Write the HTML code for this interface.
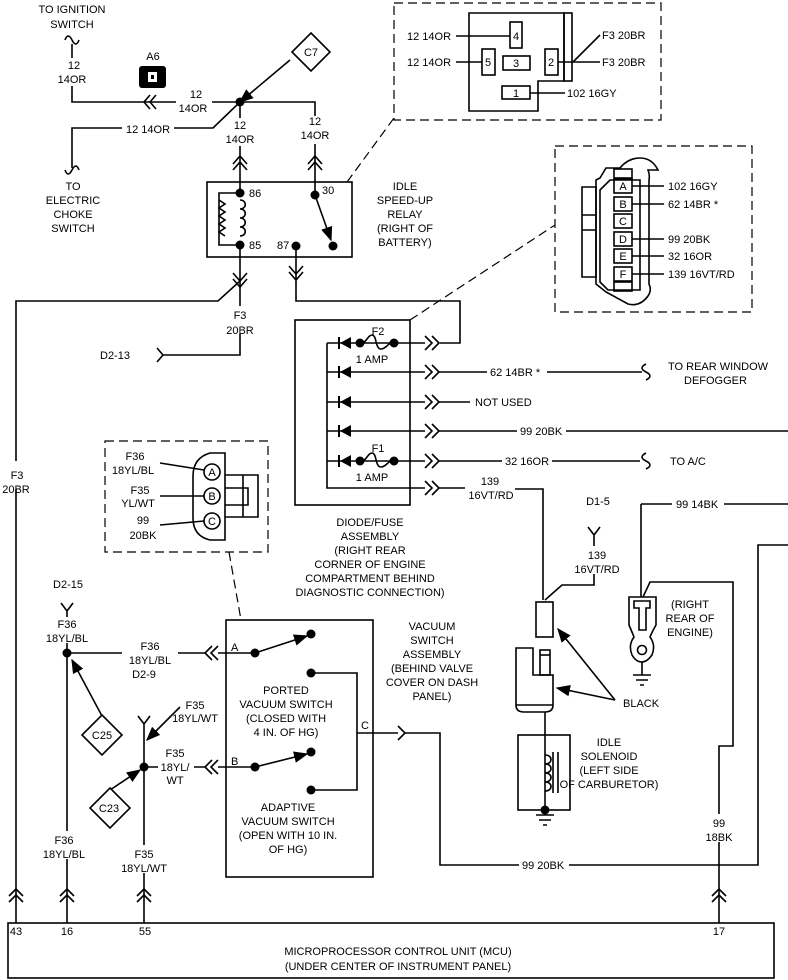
<!DOCTYPE html>
<html><head><meta charset="utf-8"><style>
html,body{margin:0;padding:0;background:#fff;}
svg{display:block;}
text{font-family:"Liberation Sans",sans-serif;font-size:11px;fill:#000;}
</style></head><body>
<svg width="788" height="980" viewBox="0 0 788 980" xmlns="http://www.w3.org/2000/svg">
<defs>
<marker id="ah" viewBox="0 0 10 10" refX="9" refY="5" markerWidth="9" markerHeight="9" orient="auto"><path d="M0,1 L10,5 L0,9 Z" fill="#000"/></marker>
</defs>
<g fill="none" stroke="#000" stroke-width="1.6">
<path d="M65,40 q3,-8 7,0 q4,8 7,0"/>
<path d="M72,44 V102 H240"/>
<path d="M240,102 L213,128 H72 V168"/>
<path d="M65,170 q3,8 7,0 q4,-8 7,0"/>
<path d="M240,102 V193"/>
<path d="M240,102 H315 V195"/>
<path d="M150,95 L144,102 L150,109 M156,95 L150,102 L156,109"/>
<path d="M233,164 L240,156 L247,164 M233,170 L240,162 L247,170"/>
<path d="M308,164 L315,156 L322,164 M308,170 L315,162 L322,170"/>
<path d="M290,60 L240,102" marker-end="url(#ah)"/>
<path d="M311,33 L330,52 L311,71 L292,52 Z" fill="#fff"/>
<rect x="207" y="182" width="145" height="75"/>
<path d="M240,193 H219 V245 H240"/>
<path d="M219,200 l6,4 -6,4 6,4 -6,4 6,4 -6,4 6,4 -6,4 6,4"/>
<path d="M240,200 c7,0 7,9 0,9 c7,0 7,9 0,9 c7,0 7,9 0,9 c7,0 7,9 0,9"/>
<path d="M315,195 L331,240" marker-end="url(#ah)"/>
<path d="M240,245 V355 H163"/>
<path d="M157,348 L163,355 L157,362"/>
<path d="M233,273 L240,281 L247,273 M233,279 L240,287 L247,279"/>
<path d="M296,246 V301 H460 V343 H440"/>
<path d="M289,266 L296,274 L303,266 M289,272 L296,280 L303,272"/>
<path d="M240,281 L218,301 H16 V923"/>
<rect x="295" y="320" width="115" height="185"/>
<path d="M327,343 V488 H425"/>
<path d="M327,343 H425 M327,372 H425 M327,402 H425 M327,431 H425 M327,461 H425"/>
<path d="M425,336 L432,343 L425,350 M432,336 L439,343 L432,350"/>
<path d="M425,365 L432,372 L425,379 M432,365 L439,372 L432,379"/>
<path d="M425,395 L432,402 L425,409 M432,395 L439,402 L432,409"/>
<path d="M425,424 L432,431 L425,438 M432,424 L439,431 L432,438"/>
<path d="M425,454 L432,461 L425,468 M432,454 L439,461 L432,468"/>
<path d="M425,481 L432,488 L425,495 M432,481 L439,488 L432,495"/>
<path d="M439,372 H642 M439,402 H470 M439,431 H788 M439,461 H640 M439,488 H465"/>
<path d="M515,489 H543 V600"/>
<path d="M646,364 q-8,4 0,8 q8,4 0,8"/>
<path d="M646,453 q-8,4 0,8 q8,4 0,8"/>
<path d="M362,343 c4,0 6,-8 10,-8 c5,0 3,14 9,14 c5,0 7,-6 11,-6"/>
<path d="M362,461 c4,0 6,-8 10,-8 c5,0 3,14 9,14 c5,0 7,-6 11,-6"/>
<g stroke-dasharray="9,5" stroke-width="1.2">
<rect x="394" y="3" width="267" height="117"/>
<rect x="555" y="146" width="197" height="166"/>
<rect x="105" y="441" width="163" height="111"/>
<path d="M347,182 L394,118"/>
<path d="M410,320 L555,225"/>
<path d="M229,552 L241,620"/>
</g>
<path d="M469,13 H564 V81 H538 V111 H469 Z"/>
<rect x="564" y="13" width="8" height="68"/>
<rect x="510" y="22" width="12" height="26"/>
<rect x="482" y="49" width="13" height="26"/>
<rect x="503" y="56" width="27" height="14"/>
<rect x="545" y="49" width="13" height="26"/>
<rect x="502" y="86" width="28" height="13"/>
<path d="M456,36 H510 M456,62 H482 M558,62 H600 M573,62 L600,35 M530,93 H565"/>
<path d="M600,178 L606,168 H620 Q628,158 640,158 Q652,158 658,170 L648,170 Q650,175 649,180 L649,284 Q652,290 648,296 Q640,307 628,304 L606,292 L596,284 V180 Z"/>
<path d="M582,187 H596 V277 H582 Z M582,215 H596 M582,230 H596"/>
<path d="M600,190 L610,180 H640 V290 H608 L600,282 Z"/>
<rect x="614" y="169" width="18" height="9"/>
<rect x="614" y="282" width="18" height="9"/>
<rect x="614" y="179" width="18" height="14"/>
<rect x="614" y="197" width="18" height="14"/>
<rect x="614" y="214" width="18" height="14"/>
<rect x="614" y="232" width="18" height="14"/>
<rect x="614" y="249" width="18" height="14"/>
<rect x="614" y="267" width="18" height="14"/>
<path d="M632,186 H664 M632,204 H664 M632,239 H664 M632,256 H664 M632,274 H664"/>
<path d="M210,453 H225 V540 H210 Q193,536 193,518 V476 Q193,458 210,453 Z"/>
<circle cx="212" cy="472" r="8"/><circle cx="212" cy="496" r="8"/><circle cx="212" cy="521" r="8"/>
<path d="M225,475 H258 V517 H225 M225,488 H248 V505 H225 M243,475 V517"/>
<path d="M160,463 L204,470 M160,496 L204,496 M160,525 L204,521"/>
<path d="M61,603 L67,611 L73,603 M67,611 V923"/>
<path d="M67,653 H205"/>
<path d="M212,646 L205,653 L212,660 M218,646 L211,653 L218,660"/>
<path d="M102,716 L72,660" marker-end="url(#ah)"/>
<path d="M102,715 L122,735 L102,755 L82,735 Z" fill="#fff"/>
<path d="M138,716 L144,724 L150,716 M144,724 V923"/>
<path d="M180,707 L147,740" marker-end="url(#ah)"/>
<path d="M144,767 H205"/>
<path d="M212,760 L205,767 L212,774 M218,760 L211,767 L218,774"/>
<path d="M110,790 L140,770" marker-end="url(#ah)"/>
<path d="M110,788 L130,808 L110,828 L90,808 Z" fill="#fff"/>
<rect x="226" y="620" width="147" height="257"/>
<path d="M218,653 H255 M218,767 H255"/>
<path d="M255,653 L307,636" marker-end="url(#ah)"/>
<path d="M255,767 L307,754" marker-end="url(#ah)"/>
<path d="M311,673 H357 V790 H311 M357,733 H398 M404,733 H440 V865 H758 V545 H788"/>
<path d="M398,726 L405,733 L398,740"/>
<path d="M588,527 L594,535 L600,527 M594,535 V585 H562 L545,600"/>
<rect x="536" y="602" width="17" height="35"/>
<path d="M516,648 H533 V675 H553 V705 Q553,712 545,712 H524 Q516,712 516,705 Z"/>
<path d="M516,705 H553"/>
<rect x="540" y="650" width="10" height="25"/>
<path d="M540,655 H550"/>
<path d="M615,700 L558,629" marker-end="url(#ah)"/>
<path d="M615,700 L557,688" marker-end="url(#ah)"/>
<path d="M545,712 V810"/>
<rect x="518" y="735" width="52" height="75"/>
<path d="M545,755 c8,0 8,9 0,9 c8,0 8,9 0,9 c8,0 8,9 0,9 c8,0 8,9 0,9"/>
<path d="M553,752 V793 M558,752 V793"/>
<path d="M536,815 H554 M539,820 H551 M543,825 H547 M545,810 V815"/>
<path d="M641,504 H788 M641,504 V597"/>
<path d="M629,597 H656 V625 Q652,632 650,637 Q656,645 652,655 Q647,662 642,662 Q636,662 632,655 Q628,645 634,637 Q632,632 629,625 Z"/>
<path d="M634,601 H650 V608 H646 V630 H639 V608 H634 Z"/>
<circle cx="642" cy="650" r="4.5"/>
<path d="M642,662 V675 M633,675 H651 M636,680 H648 M640,685 H644"/>
<path d="M643,597 L650,582 H733 V746 H719 V923"/>
<path d="M9,896 L16,889 L23,896 M9,902 L16,895 L23,902"/>
<path d="M60,896 L67,889 L74,896 M60,902 L67,895 L74,902"/>
<path d="M137,896 L144,889 L151,896 M137,902 L144,895 L151,902"/>
<path d="M712,896 L719,889 L726,896 M712,902 L719,895 L726,902"/>
<rect x="8" y="923" width="766" height="55"/>
</g>
<g fill="#000">
<circle cx="240" cy="102" r="4.5"/>
<circle cx="240" cy="193" r="4.5"/><circle cx="240" cy="245" r="4.5"/>
<circle cx="315" cy="195" r="4.5"/><circle cx="296" cy="246" r="4.5"/><circle cx="333" cy="246" r="4.5"/>
<rect x="139" y="66" width="27" height="22" rx="3"/>
<path d="M351,337 L340,343 L351,349 Z"/>
<path d="M351,366 L340,372 L351,378 Z"/>
<path d="M351,396 L340,402 L351,408 Z"/>
<path d="M351,425 L340,431 L351,437 Z"/>
<path d="M351,455 L340,461 L351,467 Z"/>
<circle cx="360" cy="343" r="4.5"/><circle cx="394" cy="343" r="4.5"/>
<circle cx="360" cy="461" r="4.5"/><circle cx="394" cy="461" r="4.5"/>
<circle cx="67" cy="653" r="4.5"/><circle cx="144" cy="767" r="4.5"/>
<circle cx="255" cy="653" r="4.5"/><circle cx="311" cy="634" r="4.5"/>
<circle cx="311" cy="673" r="4.5"/><circle cx="255" cy="767" r="4.5"/>
<circle cx="311" cy="752" r="4.5"/><circle cx="311" cy="790" r="4.5"/>
<circle cx="545" cy="810" r="4.5"/>
</g>
<path d="M339,337 V349 M339,366 V378 M339,396 V408 M339,425 V437 M339,455 V467" stroke="#000" stroke-width="2"/>
<rect x="148" y="72" width="9" height="10" fill="#fff"/><rect x="151" y="75" width="3" height="4" fill="#000"/>
<g fill="#fff">
<rect x="64" y="58" width="20" height="28"/>
<rect x="176" y="88" width="36" height="26"/>
<rect x="122" y="122" width="52" height="12"/>
<rect x="226" y="118" width="30" height="28"/>
<rect x="301" y="116" width="30" height="28"/>
<rect x="225" y="306" width="32" height="28"/>
<rect x="3" y="461" width="28" height="28"/>
<rect x="487" y="366" width="60" height="12"/>
<rect x="517" y="425" width="49" height="12"/>
<rect x="502" y="455" width="50" height="12"/>
<rect x="580" y="546" width="36" height="28"/>
<rect x="672" y="498" width="52" height="12"/>
<rect x="704" y="814" width="30" height="28"/>
<rect x="519" y="859" width="50" height="12"/>
<rect x="122" y="638" width="56" height="42"/>
<rect x="158" y="745" width="36" height="40"/>
<rect x="44" y="831" width="42" height="28"/>
<rect x="122" y="845" width="46" height="28"/>
<rect x="47" y="617" width="42" height="26"/>
</g>
<g text-anchor="middle">
<text x="72" y="13">TO IGNITION</text><text x="72" y="28">SWITCH</text>
<text x="74" y="69">12</text><text x="72" y="83">14OR</text>
<text x="153" y="60">A6</text>
<text x="196" y="98">12</text><text x="193" y="112">14OR</text>
<text x="148" y="133">12 14OR</text>
<text x="73" y="190">TO</text><text x="73" y="204">ELECTRIC</text><text x="73" y="218">CHOKE</text><text x="73" y="232">SWITCH</text>
<text x="240" y="129">12</text><text x="240" y="143">14OR</text>
<text x="315" y="125">12</text><text x="315" y="139">14OR</text>
<text x="311" y="56">C7</text>
<text x="405" y="190">IDLE</text><text x="405" y="204">SPEED-UP</text><text x="405" y="218">RELAY</text><text x="405" y="232">(RIGHT OF</text><text x="405" y="246">BATTERY)</text>
<text x="240" y="319">F3</text><text x="240" y="334">20BR</text>
<text x="17" y="479">F3</text><text x="16" y="493">20BR</text>
<text x="378" y="335">F2</text><text x="372" y="363">1 AMP</text>
<text x="378" y="452">F1</text><text x="372" y="481">1 AMP</text>
<text x="370" y="526">DIODE/FUSE</text><text x="370" y="540">ASSEMBLY</text><text x="370" y="554">(RIGHT REAR</text><text x="370" y="568">CORNER OF ENGINE</text><text x="370" y="582">COMPARTMENT BEHIND</text><text x="370" y="596">DIAGNOSTIC CONNECTION)</text>
<text x="490" y="485">139</text><text x="491" y="499">16VT/RD</text>
<text x="598" y="505">D1-5</text>
<text x="597" y="559">139</text><text x="597" y="573">16VT/RD</text>
<text x="690" y="608">(RIGHT</text><text x="690" y="622">REAR OF</text><text x="690" y="636">ENGINE)</text>
<text x="609" y="746">IDLE</text><text x="609" y="760">SOLENOID</text><text x="609" y="774">(LEFT SIDE</text><text x="609" y="788">OF CARBURETOR)</text>
<text x="719" y="827">99</text><text x="719" y="841">18BK</text>
<text x="432" y="630">VACUUM</text><text x="432" y="644">SWITCH</text><text x="432" y="658">ASSEMBLY</text><text x="432" y="672">(BEHIND VALVE</text><text x="432" y="686">COVER ON DASH</text><text x="432" y="700">PANEL)</text>
<text x="286" y="694">PORTED</text><text x="286" y="708">VACUUM SWITCH</text><text x="286" y="722">(CLOSED WITH</text><text x="286" y="736">4 IN. OF HG)</text>
<text x="288" y="811">ADAPTIVE</text><text x="288" y="825">VACUUM SWITCH</text><text x="288" y="839">(OPEN WITH 10 IN.</text><text x="288" y="853">OF HG)</text>
<text x="135" y="460">F36</text><text x="133" y="474">18YL/BL</text>
<text x="140" y="494">F35</text><text x="138" y="507">YL/WT</text>
<text x="143" y="524">99</text><text x="143" y="539">20BK</text>
<text x="212" y="476">A</text><text x="212" y="500">B</text><text x="212" y="525">C</text>
<text x="68" y="588">D2-15</text>
<text x="67" y="628">F36</text><text x="67" y="642">18YL/BL</text>
<text x="150" y="650">F36</text><text x="150" y="664">18YL/BL</text><text x="144" y="678">D2-9</text>
<text x="195" y="709">F35</text><text x="195" y="722">18YL/WT</text>
<text x="175" y="757">F35</text><text x="175" y="771">18YL/</text><text x="175" y="784">WT</text>
<text x="102" y="739">C25</text><text x="109" y="812">C23</text>
<text x="64" y="844">F36</text><text x="64" y="858">18YL/BL</text>
<text x="144" y="858">F35</text><text x="144" y="872">18YL/WT</text>
<text x="16" y="935">43</text><text x="67" y="935">16</text><text x="145" y="935">55</text><text x="719" y="935">17</text>
<text x="398" y="955">MICROPROCESSOR CONTROL UNIT (MCU)</text>
<text x="398" y="970">(UNDER CENTER OF INSTRUMENT PANEL)</text>
<text x="516" y="40">4</text><text x="488" y="66">5</text><text x="516" y="67">3</text><text x="551" y="66">2</text><text x="516" y="97">1</text>
<text x="623" y="190">A</text><text x="623" y="208">B</text><text x="623" y="225">C</text><text x="623" y="243">D</text><text x="623" y="260">E</text><text x="623" y="278">F</text>
</g>
<text x="249" y="197">86</text><text x="249" y="249">85</text><text x="322" y="194">30</text><text x="277" y="249">87</text>
<text x="100" y="359">D2-13</text>
<text x="490" y="376">62 14BR *</text>
<text x="475" y="406">NOT USED</text>
<text x="520" y="435">99 20BK</text>
<text x="505" y="465">32 16OR</text>
<text x="668" y="370">TO REAR WINDOW</text><text x="684" y="384">DEFOGGER</text>
<text x="670" y="465">TO A/C</text>
<text x="676" y="508">99 14BK</text>
<text x="623" y="707">BLACK</text>
<text x="522" y="869">99 20BK</text>
<text x="231" y="651">A</text><text x="231" y="765">B</text><text x="361" y="729">C</text>
<text x="407" y="40">12 14OR</text><text x="407" y="66">12 14OR</text>
<text x="602" y="39">F3 20BR</text><text x="602" y="66">F3 20BR</text>
<text x="567" y="97">102 16GY</text>
<text x="668" y="190">102 16GY</text><text x="668" y="208">62 14BR *</text><text x="668" y="243">99 20BK</text><text x="668" y="260">32 16OR</text><text x="668" y="278">139 16VT/RD</text>
</svg>
</body></html>
